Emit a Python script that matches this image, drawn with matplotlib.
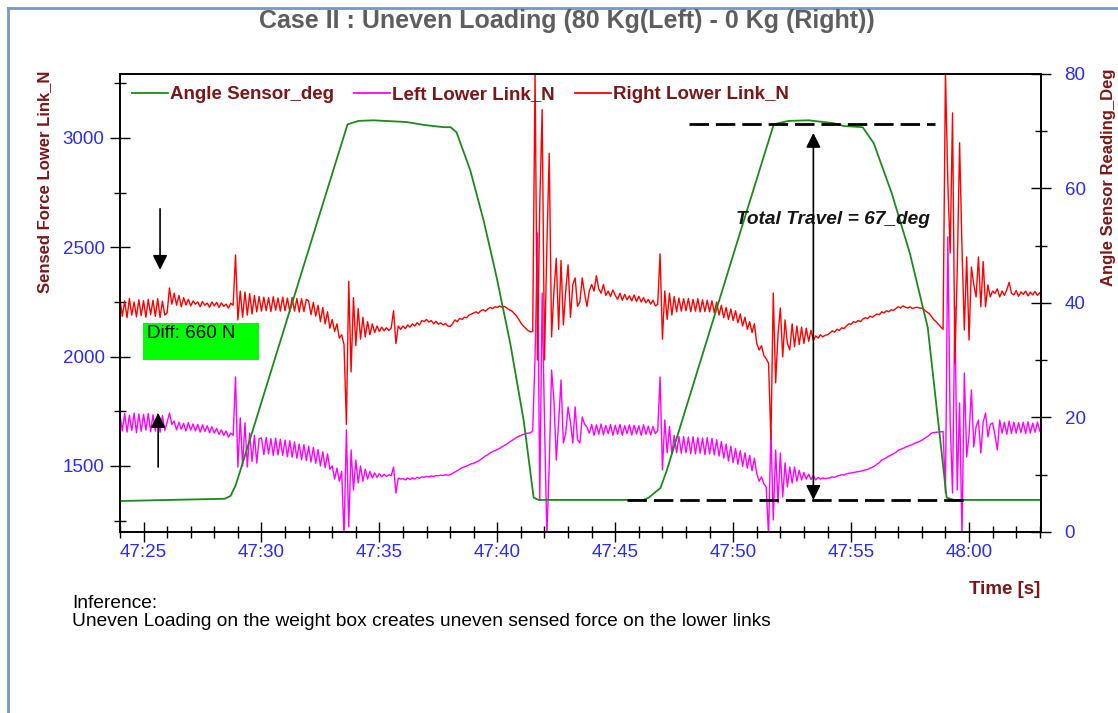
import numpy as np
import matplotlib.pyplot as plt
from matplotlib.ticker import MultipleLocator, FuncFormatter
from matplotlib.patches import Rectangle
from matplotlib.lines import Line2D

plt.rcParams['font.family'] = ['Liberation Sans', 'DejaVu Sans']

# sampled signals, seconds after 47:00, one sample every 0.1 s
t_start = 24.0
t_step = 0.1

# Right Lower Link_N
right_link = [
	2262, 2185, 2255, 2178, 2266, 2190, 2250, 2182, 2260, 2188,  # 24
	2256, 2180, 2262, 2192, 2258, 2184, 2265, 2179, 2254, 2190,  # 25
	2200, 2314, 2240, 2290, 2235, 2280, 2228, 2270, 2236, 2262,  # 26
	2232, 2255, 2240, 2250, 2228, 2252, 2235, 2245, 2226, 2250,  # 27
	2232, 2248, 2225, 2246, 2230, 2240, 2222, 2244, 2235, 2465,  # 28
	2168, 2300, 2180, 2295, 2190, 2288, 2195, 2280, 2205, 2275,  # 29
	2208, 2272, 2210, 2270, 2206, 2274, 2212, 2268, 2208, 2272,  # 30
	2210, 2268, 2205, 2270, 2208, 2266, 2204, 2265, 2206, 2262,  # 31
	2255, 2192, 2248, 2185, 2235, 2160, 2225, 2150, 2205, 2130,  # 32
	2170, 2115, 2150, 2085, 2100, 2055, 1690, 2345, 1930, 2270,  # 33
	2050, 2220, 2080, 2180, 2090, 2160, 2100, 2150, 2110, 2140,  # 34
	2115, 2135, 2118, 2132, 2120, 2130, 2210, 2060, 2140, 2125,  # 35
	2140, 2128, 2145, 2135, 2150, 2140, 2155, 2145, 2165, 2160,  # 36
	2170, 2158, 2165, 2150, 2162, 2148, 2155, 2145, 2152, 2140,  # 37
	2138, 2150, 2168, 2160, 2175, 2170, 2180, 2178, 2190, 2195,  # 38
	2200, 2205, 2198, 2210, 2215, 2208, 2218, 2225, 2220, 2228,  # 39
	2225, 2232, 2226, 2230, 2222, 2215, 2210, 2200, 2188, 2172,  # 40
	2154, 2140, 2130, 2120, 2113, 2115, 3300, 1985, 2700, 3130,  # 41
	1985, 2500, 2930, 2090, 2300, 2450, 2125, 2440, 2145, 2300,  # 42
	2420, 2180, 2330, 2360, 2230, 2250, 2360, 2290, 2230, 2300,  # 43
	2330, 2300, 2370, 2310, 2290, 2330, 2280, 2300, 2275, 2305,  # 44
	2280, 2262, 2290, 2258, 2285, 2260, 2278, 2255, 2282, 2252,  # 45
	2276, 2250, 2270, 2246, 2262, 2240, 2258, 2232, 2240, 2470,  # 46
	2080, 2300, 2170, 2290, 2190, 2275, 2205, 2268, 2208, 2265,  # 47
	2210, 2266, 2205, 2262, 2208, 2265, 2204, 2260, 2206, 2258,  # 48
	2205, 2255, 2200, 2250, 2190, 2235, 2178, 2225, 2170, 2218,  # 49
	2165, 2210, 2155, 2195, 2140, 2180, 2125, 2160, 2110, 2150,  # 50
	2060, 2030, 2050, 2005, 1990, 1970, 1619, 2291, 1880, 2100,  # 51
	2223, 1999, 2168, 2060, 2031, 2150, 2045, 2140, 2055, 2135,  # 52
	2060, 2130, 2070, 2120, 2075, 2095, 2085, 2100, 2090, 2098,  # 53
	2100, 2108, 2118, 2112, 2125, 2120, 2132, 2128, 2140, 2150,  # 54
	2148, 2160, 2156, 2165, 2160, 2172, 2178, 2174, 2185, 2180,  # 55
	2188, 2195, 2192, 2205, 2200, 2210, 2205, 2214, 2212, 2220,  # 56
	2228, 2222, 2232, 2226, 2222, 2228, 2220, 2224, 2226, 2222,  # 57
	2222, 2215, 2205, 2198, 2185, 2170, 2160, 2148, 2136, 2125,  # 58
	3300, 2800, 2474, 3115, 1971, 2400, 2978, 2500, 2122, 2456,  # 59
	2076, 2410, 2330, 2273, 2456, 2228, 2435, 2228, 2328, 2273,  # 60
	2300, 2290, 2310, 2273, 2300, 2280, 2305, 2340, 2290, 2282,  # 61
	2302, 2276, 2296, 2285, 2300, 2278, 2295, 2282, 2298, 2280,  # 62
	2292]

# Left Lower Link_N
left_link = [
	1735, 1660, 1740, 1655, 1732, 1662, 1742, 1652, 1738, 1658,  # 24
	1736, 1664, 1740, 1656, 1734, 1660, 1738, 1654, 1730, 1662,  # 25
	1700, 1742, 1690, 1705, 1665, 1700, 1668, 1695, 1660, 1698,  # 26
	1664, 1692, 1660, 1690, 1655, 1688, 1658, 1684, 1652, 1680,  # 27
	1650, 1672, 1645, 1665, 1640, 1660, 1632, 1650, 1640, 1907,  # 28
	1495, 1720, 1500, 1697, 1495, 1651, 1520, 1640, 1513, 1625,  # 29
	1628, 1552, 1630, 1555, 1625, 1548, 1627, 1550, 1622, 1548,  # 30
	1618, 1542, 1615, 1540, 1610, 1535, 1600, 1528, 1598, 1525,  # 31
	1590, 1518, 1585, 1512, 1575, 1500, 1565, 1492, 1555, 1485,  # 32
	1500, 1440, 1490, 1430, 1475, 1180, 1665, 1221, 1573, 1390,  # 33
	1527, 1422, 1500, 1430, 1485, 1440, 1475, 1445, 1468, 1448,  # 34
	1465, 1450, 1462, 1452, 1460, 1455, 1495, 1376, 1445, 1440,  # 35
	1442, 1436, 1445, 1438, 1446, 1440, 1448, 1444, 1450, 1448,  # 36
	1452, 1450, 1454, 1452, 1456, 1455, 1458, 1456, 1460, 1458,  # 37
	1460, 1466, 1472, 1478, 1485, 1492, 1496, 1500, 1505, 1510,  # 38
	1512, 1518, 1522, 1530, 1538, 1546, 1552, 1560, 1566, 1570,  # 39
	1575, 1580, 1588, 1594, 1600, 1608, 1615, 1622, 1630, 1635,  # 40
	1640, 1644, 1648, 1650, 1651, 1660, 2000, 2566, 1344, 2291,  # 41
	1700, 1180, 1500, 1939, 1800, 1527, 1700, 1893, 1605, 1650,  # 42
	1770, 1700, 1605, 1770, 1620, 1605, 1724, 1690, 1678, 1650,  # 43
	1690, 1640, 1688, 1645, 1692, 1642, 1685, 1648, 1690, 1640,  # 44
	1686, 1645, 1690, 1640, 1684, 1648, 1688, 1642, 1686, 1646,  # 45
	1684, 1640, 1688, 1645, 1682, 1642, 1680, 1648, 1660, 1907,  # 46
	1482, 1710, 1560, 1680, 1555, 1640, 1560, 1635, 1558, 1634,  # 47
	1560, 1632, 1556, 1634, 1555, 1630, 1558, 1628, 1552, 1630,  # 48
	1555, 1626, 1550, 1620, 1545, 1612, 1535, 1600, 1522, 1590,  # 49
	1515, 1580, 1508, 1570, 1498, 1560, 1490, 1548, 1478, 1535,  # 50
	1465, 1430, 1450, 1418, 1404, 1180, 1665, 1253, 1573, 1331,  # 51
	1559, 1358, 1514, 1404, 1495, 1422, 1495, 1430, 1480, 1436,  # 52
	1470, 1440, 1462, 1438, 1455, 1436, 1448, 1440, 1445, 1442,  # 53
	1444, 1446, 1450, 1448, 1454, 1456, 1460, 1458, 1464, 1466,  # 54
	1468, 1470, 1472, 1474, 1476, 1478, 1482, 1484, 1490, 1494,  # 55
	1500, 1508, 1515, 1527, 1532, 1538, 1545, 1550, 1556, 1562,  # 56
	1572, 1576, 1580, 1586, 1590, 1594, 1598, 1604, 1608, 1612,  # 57
	1618, 1625, 1632, 1640, 1650, 1652, 1654, 1655, 1656, 1658,  # 58
	1376, 2548, 1700, 1376, 2227, 1390, 1788, 1180, 1925, 1541,  # 59
	1640, 1848, 1587, 1680, 1710, 1559, 1700, 1742, 1633, 1690,  # 60
	1697, 1640, 1573, 1710, 1650, 1700, 1645, 1705, 1648, 1700,  # 61
	1650, 1698, 1652, 1700, 1648, 1702, 1650, 1696, 1654, 1700,  # 62
	1660]

time = t_start + t_step*np.arange(len(right_link))

# Angle Sensor_deg, read at the corners of the trace
angle_time = [23.94, 28.44, 28.69, 28.9, 29.07, 32.12, 33.65, 34.12, 34.75, 36.15,
			  36.87, 37.72, 38.02, 38.27, 38.85, 39.42, 39.97, 40.55, 41.12, 41.54,
			  41.75, 46.2, 46.42, 46.92, 47.18, 50.19, 51.72, 52.35, 53.2, 54.26,
			  54.69, 55.49, 55.96, 56.72, 57.49, 58.25, 59.05, 59.35, 63.05]
angle_deg = [5.4, 5.8, 6.3, 8.1, 10.3, 50.9, 71.2, 71.8, 71.9, 71.6,
			 71.1, 70.7, 70.7, 69.8, 63.2, 54.4, 44.5, 32.9, 19.4, 6.0,
			 5.6, 5.6, 6.0, 7.7, 10.7, 50.9, 71.2, 71.8, 71.9, 71.4,
			 70.9, 70.7, 67.9, 59.2, 48.7, 35.7, 6.0, 5.6, 5.6]

# travel markers (deg) and the 660 N difference note
travel_top = 71.2
travel_bottom = 5.6
travel_tip = 69.7
diff_label = 'Diff: 660 N'
travel_label = 'Total Travel = 67_deg'

dark_red = '#7d1616'
tick_blue = '#2b2bff'


fig = plt.figure(figsize=(11.18, 7.13), dpi=100)
ax = fig.add_axes([0.1073, 0.2539, 0.8238, 0.6424])
ax2 = ax.twinx()

ax.plot(time, left_link, color='#ff00ff', lw=1.0)
ax.plot(time, right_link, color='#ff0000', lw=1.0)
ax2.plot(angle_time, angle_deg, color='#1b8a1b', lw=1.3)

ax.set_xlim(24.0, 63.05)
ax.set_ylim(1198, 3293)
ax2.set_ylim(0, 80)

ax.xaxis.set_major_locator(MultipleLocator(5))
ax.xaxis.set_minor_locator(MultipleLocator(1))
ax.xaxis.set_major_formatter(FuncFormatter(lambda v, p: f'{47 + int(round(v))//60}:{int(round(v)) % 60:02d}'))
ax.yaxis.set_major_locator(MultipleLocator(500))
ax.yaxis.set_minor_locator(MultipleLocator(250))
ax2.yaxis.set_major_locator(MultipleLocator(20))
ax2.yaxis.set_minor_locator(MultipleLocator(10))

for a in (ax, ax2):
	a.tick_params(which='major', direction='inout', length=14, width=1, labelsize=13.5, labelcolor=tick_blue, pad=2)
	a.tick_params(which='minor', direction='inout', length=9, width=1)
	for s in a.spines.values():
		s.set_linewidth(1.2)
ax.tick_params(axis='y', which='major', pad=4)
ax2.tick_params(axis='y', which='major', pad=10)

# arrows and the green note on the left
ax.annotate('', xy=(25.70, 2397), xytext=(25.70, 2676),
			arrowprops=dict(arrowstyle='-|>', color='black', lw=1.2, mutation_scale=22, shrinkA=0, shrinkB=0))
ax.annotate('', xy=(25.62, 1742), xytext=(25.62, 1495),
			arrowprops=dict(arrowstyle='-|>', color='black', lw=1.2, mutation_scale=22, shrinkA=0, shrinkB=0))
ax.add_patch(Rectangle((24.98, 1985), 4.92, 169, facecolor='#00ff00', edgecolor='none', zorder=5))
ax.text(25.15, 2108, diff_label, fontsize=13.5, color='black', va='center', zorder=6)

# total travel markers
ax2.plot([48.11, 58.57], [travel_top, travel_top], color='black', lw=2, dashes=(7, 2.5))
ax2.plot([45.48, 60.05], [travel_bottom, travel_bottom], color='black', lw=2, dashes=(7, 2.5))
ax2.annotate('', xy=(53.40, travel_tip), xytext=(53.40, travel_bottom),
			 arrowprops=dict(arrowstyle='<|-|>', color='black', lw=1.2, mutation_scale=22, shrinkA=0, shrinkB=0))
ax2.text(50.14, 54.6, travel_label, fontsize=13.8, fontweight='bold', style='italic', color='#151515', va='center')

handles = [Line2D([], [], color='#1b8a1b', lw=1.3),
		   Line2D([], [], color='#ff00ff', lw=1.3),
		   Line2D([], [], color='#ff0000', lw=1.3)]
labels = ['Angle Sensor_deg', 'Left Lower Link_N', 'Right Lower Link_N']
leg = ax2.legend(handles, labels, loc='upper left', bbox_to_anchor=(0.0, 1.0), ncol=3, frameon=False,
				 handlelength=1.9, handletextpad=0.1, columnspacing=1.1, borderaxespad=0.25,
				 prop={'size': 13.5, 'weight': 'bold'}, labelcolor=dark_red)

fig.text(0.507, 1 - 21/713, 'Case II : Uneven Loading (80 Kg(Left) - 0 Kg (Right))',
		 ha='center', va='center', fontsize=18, fontweight='bold', color='#5e5e5e')
fig.text(45/1118, 1 - 182/713, 'Sensed Force Lower Link_N', rotation=90, ha='center', va='center',
		 fontsize=12, fontweight='bold', color=dark_red)
fig.text(1108/1118, 1 - 177/713, 'Angle Sensor Reading_Deg', rotation=90, ha='center', va='center',
		 fontsize=12, fontweight='bold', color=dark_red)
fig.text(1040/1118, 1 - 590/713, 'Time [s]', ha='right', va='center', fontsize=13.5, fontweight='bold', color=dark_red)
fig.text(72/1118, 1 - 603/713, 'Inference:', ha='left', va='center', fontsize=13.8, color='black')
fig.text(72/1118, 1 - 621/713, 'Uneven Loading on the weight box creates uneven sensed force on the lower links',
		 ha='left', va='center', fontsize=13.8, color='black')

# frame of the slide
fig.add_artist(Line2D([8/1118, 1], [1 - 8/713, 1 - 8/713], transform=fig.transFigure, color='#7a96c4', lw=2))
fig.add_artist(Line2D([8/1118, 8/1118], [0, 1 - 8/713], transform=fig.transFigure, color='#7a96c4', lw=2))

fig.savefig('out.png', dpi=100, facecolor='white')
plt.close()
